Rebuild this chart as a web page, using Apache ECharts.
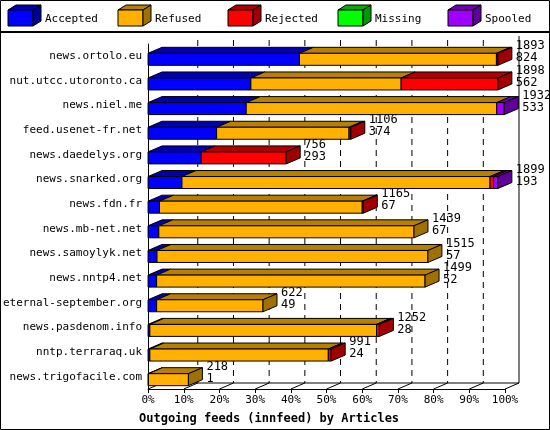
<!DOCTYPE html>
<html><head><meta charset="utf-8">
<script src="https://cdn.jsdelivr.net/npm/echarts@6/dist/echarts.min.js"></script>
<style>body{margin:0;background:#fff}#c{width:550px;height:430px}</style>
</head><body><div id="c"></div>
<script>
// feeds, totals and accepted counts shown at the bar ends
const feeds = ["news.ortolo.eu","nut.utcc.utoronto.ca","news.niel.me","feed.usenet-fr.net","news.daedelys.org","news.snarked.org","news.fdn.fr","news.mb-net.net","news.samoylyk.net","news.nntp4.net","eternal-september.org","news.pasdenom.info","nntp.terraraq.uk","news.trigofacile.com"];
const totals = [1893,1898,1932,1106,756,1899,1165,1439,1515,1499,622,1252,991,218];
const acceptedCount = [824,562,533,374,293,193,67,67,57,52,49,28,24,1];
// segment widths in % of the axis
const accepted = [42.4,28.8,27.5,19.2,14.9,9.5,3.2,3.0,2.5,2.4,2.4,0.5,0.5,0.1];
const refused  = [55.2,42.1,70.2,37.1,0,86.3,56.8,71.5,75.9,75.2,29.8,63.5,50.0,11.2];
const rejected = [0.4,27.1,0,0.5,23.8,1.0,0.3,0,0,0,0,0.8,0.8,0];
const missing  = [0,0,0,0,0,0,0,0,0,0,0,0,0,0];
const spooled  = [0,0,2.1,0,0,1.2,0,0,0,0,0,0,0,0];
const ticks = [0,10,20,30,40,50,60,70,80,90,100];

const names = ["Accepted","Refused","Rejected","Missing","Spooled"];
const vals = [accepted, refused, rejected, missing, spooled];
const frontC = ["#0000ff","#ffb000","#ff0000","#00ff00","#a000ff"];
const topC = ["#0000b0","#b88000","#b00000","#00b000","#7000b0"];
const sideC = ["#000098","#a07000","#a00000","#009800","#600098"];
const DX = 14, DY = 6;
const FONT = '"DejaVu Sans Mono", monospace';

// last non-empty segment per row
const lastIdx = feeds.map((f, r) => { let l = 0; vals.forEach((v, k) => { if (v[r] > 0) l = k; }); return l; });

const series = vals.map((v, k) => {
  const data = [];
  feeds.forEach((f, r) => {
    let start = 0;
    for (let j = 0; j < k; j++) start += vals[j][r];
    if (v[r] > 0) data.push([start, v[r], r, lastIdx[r] === k ? 1 : 0]);
  });
  return {
    type: "custom", name: names[k], data: data, encode: { x: [0], y: 2 }, z: 3,
    renderItem: function (params, api) {
      const s = api.value(0), w = api.value(1), r = api.value(2), last = api.value(3);
      const a = api.coord([s, r]), b = api.coord([s + w, r]);
      const h = 12, y0 = a[1] - h / 2 + 3, y1 = y0 + h;
      const st = { stroke: "#000", lineWidth: 1 };
      const kids = [
        { type: "polygon", shape: { points: [[a[0], y0], [a[0] + DX, y0 - DY], [b[0] + DX, y0 - DY], [b[0], y0]] }, style: Object.assign({ fill: topC[k] }, st) },
        { type: "rect", shape: { x: a[0], y: y0, width: b[0] - a[0], height: h }, style: Object.assign({ fill: frontC[k] }, st) }
      ];
      if (last) {
        kids.push({ type: "polygon", shape: { points: [[b[0], y0], [b[0] + DX, y0 - DY], [b[0] + DX, y1 - DY], [b[0], y1]] }, style: Object.assign({ fill: sideC[k] }, st) });
        kids.push({ type: "text", x: b[0] + DX + 4, y: a[1] - 4, style: { text: totals[r] + "\n" + acceptedCount[r], font: "12px " + FONT, fill: "#000", verticalAlign: "middle", lineHeight: 12 } });
      }
      return { type: "group", children: kids };
    }
  };
});

// back plane: dashed grid lines and diagonal ticks
series.unshift({
  type: "custom", data: ticks.map(t => [t, 0]), encode: { x: 0, y: 1 }, silent: true, z: 1,
  renderItem: function (params, api) {
    const t = api.value(0);
    const p = api.coord([t, 0]);
    const cs = params.coordSys;
    const top0 = cs.y, bot = cs.y + cs.height;
    const kids = [
      { type: "line", shape: { x1: p[0], y1: bot, x2: p[0] + DX, y2: bot - DY }, style: { stroke: "#000", lineWidth: 1 } }
    ];
    if (t > 0 && t < 100) kids.push({ type: "line", shape: { x1: p[0] + DX, y1: top0 - 4, x2: p[0] + DX, y2: bot - DY }, style: { stroke: "#000", lineDash: [6, 5], lineWidth: 1 } });
    if (t === 100) kids.push({ type: "line", shape: { x1: p[0] + DX, y1: top0 - 8, x2: p[0] + DX, y2: bot - DY }, style: { stroke: "#000", lineWidth: 1 } });
    if (t === 0) kids.push({ type: "line", shape: { x1: p[0] + DX, y1: bot - DY, x2: cs.x + cs.width + DX, y2: bot - DY }, style: { stroke: "#000", lineWidth: 1 } });
    return { type: "group", children: kids };
  }
});

const legend = [];
names.forEach((n, k) => {
  const x = 8 + k * 110, y = 10;
  legend.push({ type: "polygon", shape: { points: [[x, y], [x + 8, y - 5], [x + 33, y - 5], [x + 25, y]] }, style: { fill: topC[k], stroke: "#000" } });
  legend.push({ type: "rect", shape: { x: x, y: y, width: 25, height: 16 }, style: { fill: frontC[k], stroke: "#000" } });
  legend.push({ type: "polygon", shape: { points: [[x + 25, y], [x + 33, y - 5], [x + 33, y + 11], [x + 25, y + 16]] }, style: { fill: sideC[k], stroke: "#000" } });
  legend.push({ type: "text", x: x + 37, y: 19, style: { text: n, font: "11px " + FONT, fill: "#000", verticalAlign: "middle" } });
});
legend.push({ type: "line", shape: { x1: 0, y1: 32, x2: 550, y2: 32 }, style: { stroke: "#000", lineWidth: 2 } });
legend.push({ type: "rect", shape: { x: 0.5, y: 0.5, width: 549, height: 429 }, style: { fill: "none", stroke: "#000", lineWidth: 1 } });

const chart = echarts.init(document.getElementById("c"));
chart.setOption({
  animation: false,
  grid: { left: 135, right: 45, top: 44, bottom: 40 },
  xAxis: {
    type: "value", min: 0, max: 100, interval: 10,
    axisLine: { show: true, lineStyle: { color: "#000" } },
    axisTick: { show: true, length: 4, lineStyle: { color: "#000" } },
    splitLine: { show: false },
    axisLabel: { formatter: "{value}%", color: "#000", fontFamily: FONT, fontSize: 11, margin: 6 },
    name: "Outgoing feeds (innfeed) by Articles", nameLocation: "middle", nameGap: 24,
    nameTextStyle: { color: "#000", fontFamily: FONT, fontSize: 12, fontWeight: "bold", padding: [0, 115, 0, 0] }
  },
  yAxis: {
    type: "category", data: feeds, inverse: true,
    axisLine: { show: true, lineStyle: { color: "#000" } },
    axisTick: { show: false },
    axisLabel: { color: "#000", fontFamily: FONT, fontSize: 11, margin: 6 }
  },
  graphic: legend,
  series: series
});
</script></body></html>
